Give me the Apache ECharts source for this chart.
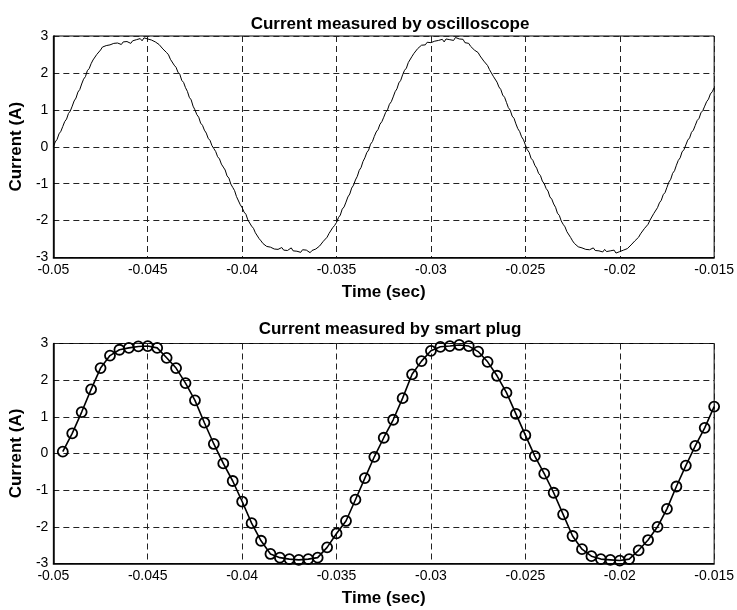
<!DOCTYPE html>
<html>
<head>
<meta charset="utf-8">
<script src="https://cdn.jsdelivr.net/npm/echarts@6/dist/echarts.min.js"></script>
<style>
html,body{margin:0;padding:0;background:#fff;}
#chart{width:737px;height:610px;}
</style>
</head>
<body>
<div id="chart"></div>
<script>
// ---- Data ----
const titles = ["Current measured by oscilloscope", "Current measured by smart plug"];
const xAxisName = "Time (sec)";
const yAxisName = "Current (A)";
const xTicks = [-0.05, -0.045, -0.04, -0.035, -0.03, -0.025, -0.02, -0.015];
const yTicks = [-3, -2, -1, 0, 1, 2, 3];

// Oscilloscope trace: sampled every 0.1 ms starting at -0.05 s
const scopeStart = -0.05;
const scopeStep = 0.0001;
const scopeCurrent = [
  0.00, 0.13, 0.20, 0.35, 0.42,
  0.55, 0.68, 0.75, 0.90, 0.97,
  1.10, 1.24, 1.32, 1.48, 1.55,
  1.70, 1.83, 1.90, 2.06, 2.12,
  2.25, 2.35, 2.40, 2.50, 2.53,
  2.62, 2.70, 2.66, 2.74, 2.70,
  2.76, 2.72, 2.80, 2.75, 2.81,
  2.80, 2.77, 2.84, 2.79, 2.85,
  2.84, 2.80, 2.87, 2.83, 2.90,
  2.88, 2.93, 2.87, 2.95, 2.90,
  2.92, 2.96, 2.89, 2.91, 2.84,
  2.85, 2.77, 2.75, 2.65, 2.62,
  2.55, 2.49, 2.37, 2.33, 2.21,
  2.15, 2.02, 1.96, 1.80, 1.74,
  1.60, 1.50, 1.34, 1.27, 1.10,
  1.00, 0.87, 0.80, 0.64, 0.58,
  0.45, 0.37, 0.23, 0.17, 0.03,
  -0.05, -0.13, -0.27, -0.33, -0.47,
  -0.55, -0.63, -0.79, -0.85, -1.01,
  -1.10, -1.19, -1.35, -1.40, -1.57,
  -1.65, -1.77, -1.83, -1.98, -2.03,
  -2.15, -2.21, -2.33, -2.37, -2.49,
  -2.55, -2.62, -2.60, -2.70, -2.67,
  -2.72, -2.69, -2.77, -2.72, -2.78,
  -2.76, -2.73, -2.80, -2.75, -2.81,
  -2.78, -2.74, -2.82, -2.77, -2.83,
  -2.80, -2.86, -2.79, -2.84, -2.80,
  -2.82, -2.87, -2.81, -2.85, -2.77,
  -2.78, -2.69, -2.67, -2.56, -2.53,
  -2.45, -2.35, -2.31, -2.19, -2.13,
  -2.05, -1.92, -1.85, -1.69, -1.63,
  -1.50, -1.36, -1.28, -1.12, -1.04,
  -0.90, -0.80, -0.64, -0.56, -0.40,
  -0.30, -0.16, -0.09, 0.07, 0.14,
  0.28, 0.40, 0.47, 0.61, 0.68,
  0.80, 0.93, 1.00, 1.15, 1.22,
  1.35, 1.49, 1.57, 1.73, 1.80,
  1.95, 2.07, 2.13, 2.28, 2.33,
  2.45, 2.53, 2.55, 2.66, 2.67,
  2.75, 2.80, 2.76, 2.83, 2.79,
  2.82, 2.78, 2.86, 2.81, 2.88,
  2.86, 2.91, 2.84, 2.92, 2.87,
  2.90, 2.95, 2.88, 2.96, 2.91,
  2.92, 2.88, 2.91, 2.82, 2.84,
  2.80, 2.72, 2.71, 2.62, 2.60,
  2.55, 2.46, 2.43, 2.32, 2.27,
  2.20, 2.09, 2.04, 1.91, 1.86,
  1.75, 1.62, 1.55, 1.40, 1.34,
  1.20, 1.06, 0.99, 0.83, 0.77,
  0.62, 0.49, 0.41, 0.27, 0.19,
  0.05, -0.08, -0.15, -0.31, -0.37,
  -0.50, -0.58, -0.72, -0.78, -0.93,
  -1.00, -1.13, -1.20, -1.36, -1.42,
  -1.55, -1.64, -1.80, -1.86, -2.01,
  -2.10, -2.17, -2.30, -2.35, -2.46,
  -2.55, -2.62, -2.61, -2.71, -2.69,
  -2.74, -2.70, -2.78, -2.73, -2.79,
  -2.78, -2.74, -2.81, -2.76, -2.82,
  -2.80, -2.85, -2.78, -2.84, -2.79,
  -2.82, -2.87, -2.80, -2.88, -2.83,
  -2.84, -2.87, -2.80, -2.82, -2.76,
  -2.75, -2.66, -2.64, -2.55, -2.50,
  -2.45, -2.36, -2.32, -2.22, -2.17,
  -2.10, -1.99, -1.94, -1.81, -1.76,
  -1.65, -1.52, -1.45, -1.30, -1.24,
  -1.10, -0.96, -0.88, -0.72, -0.65,
  -0.50, -0.37, -0.30, -0.14, -0.08,
  0.05, 0.18, 0.24, 0.39, 0.45,
  0.58, 0.71, 0.77, 0.92, 0.98,
  1.10, 1.22, 1.29, 1.43, 1.49,
  1.60
];

// Smart plug samples: every 0.5 ms starting at -0.0495 s
const plugStart = -0.0495;
const plugStep = 0.0005;
const plugCurrent = [
  0.05, 0.55, 1.13, 1.75, 2.33, 2.67, 2.83, 2.88, 2.92, 2.93,
  2.88, 2.61, 2.33, 1.92, 1.45, 0.84, 0.26, -0.27, -0.75, -1.31,
  -1.90, -2.38, -2.74, -2.84, -2.88, -2.90, -2.88, -2.84, -2.56, -2.18,
  -1.84, -1.26, -0.67, -0.09, 0.43, 0.92, 1.51, 2.16, 2.52, 2.80,
  2.91, 2.93, 2.96, 2.93, 2.78, 2.50, 2.12, 1.66, 1.08, 0.50,
  -0.07, -0.55, -1.07, -1.66, -2.25, -2.61, -2.80, -2.88, -2.90, -2.92,
  -2.88, -2.64, -2.36, -2.00, -1.51, -0.90, -0.33, 0.21, 0.70, 1.28
];

// ---- Build chart ----
const scopeData = scopeCurrent.map((v, i) => [scopeStart + i * scopeStep, v]);
const plugData = plugCurrent.map((v, i) => [plugStart + i * plugStep, v]);

const FONT = "'Liberation Sans', Arial, Helvetica, sans-serif";
const gridLine = { show: true, lineStyle: { color: '#222', width: 1, type: [6, 4] } };

function xAxisFor(gi) {
  return {
    type: 'value', gridIndex: gi,
    min: xTicks[0], max: xTicks[xTicks.length - 1], interval: 0.005,
    name: xAxisName, nameLocation: 'middle', nameGap: 26,
    nameTextStyle: { fontFamily: FONT, fontSize: 17, fontWeight: 'bold', color: '#000' },
    axisLine: { show: true, onZero: false, lineStyle: { color: '#000', width: 1.5 } },
    axisTick: { show: false },
    axisLabel: { fontFamily: FONT, fontSize: 14, color: '#000', margin: 6,
      formatter: v => String(+v.toFixed(3)) },
    splitLine: gridLine
  };
}
function yAxisFor(gi) {
  return {
    type: 'value', gridIndex: gi,
    min: yTicks[0], max: yTicks[yTicks.length - 1], interval: 1,
    name: yAxisName, nameLocation: 'middle', nameGap: 26, nameRotate: 90,
    nameTextStyle: { fontFamily: FONT, fontSize: 17, fontWeight: 'bold', color: '#000' },
    axisLine: { show: true, onZero: false, lineStyle: { color: '#000', width: 1.5 } },
    axisTick: { show: false },
    axisLabel: { fontFamily: FONT, fontSize: 14, color: '#000', margin: 5 },
    splitLine: gridLine
  };
}

const chart = echarts.init(document.getElementById('chart'), null, { renderer: 'canvas' });
chart.setOption({
  animation: false,
  backgroundColor: '#fff',
  title: [
    { text: titles[0], left: 385, top: 11, textAlign: 'center',
      textStyle: { fontFamily: FONT, fontSize: 17, fontWeight: 'bold', color: '#000' } },
    { text: titles[1], left: 385, top: 316, textAlign: 'center',
      textStyle: { fontFamily: FONT, fontSize: 17, fontWeight: 'bold', color: '#000' } }
  ],
  grid: [
    { left: 53, right: 21, top: 36, height: 221.5, show: true, borderColor: '#000', borderWidth: 1, containLabel: false },
    { left: 53, right: 21, top: 343.5, height: 220, show: true, borderColor: '#000', borderWidth: 1, containLabel: false }
  ],
  xAxis: [xAxisFor(0), xAxisFor(1)],
  yAxis: [yAxisFor(0), yAxisFor(1)],
  series: [
    { type: 'line', xAxisIndex: 0, yAxisIndex: 0, data: scopeData,
      showSymbol: false, symbol: 'none',
      lineStyle: { color: '#000', width: 1 } },
    { type: 'line', xAxisIndex: 1, yAxisIndex: 1, data: plugData,
      symbol: 'circle', symbolSize: 10, clip: false,
      lineStyle: { color: '#000', width: 1.6 },
      itemStyle: { color: 'rgba(0,0,0,0)', borderColor: '#000', borderWidth: 1.8 } }
  ]
});
</script>
</body>
</html>
